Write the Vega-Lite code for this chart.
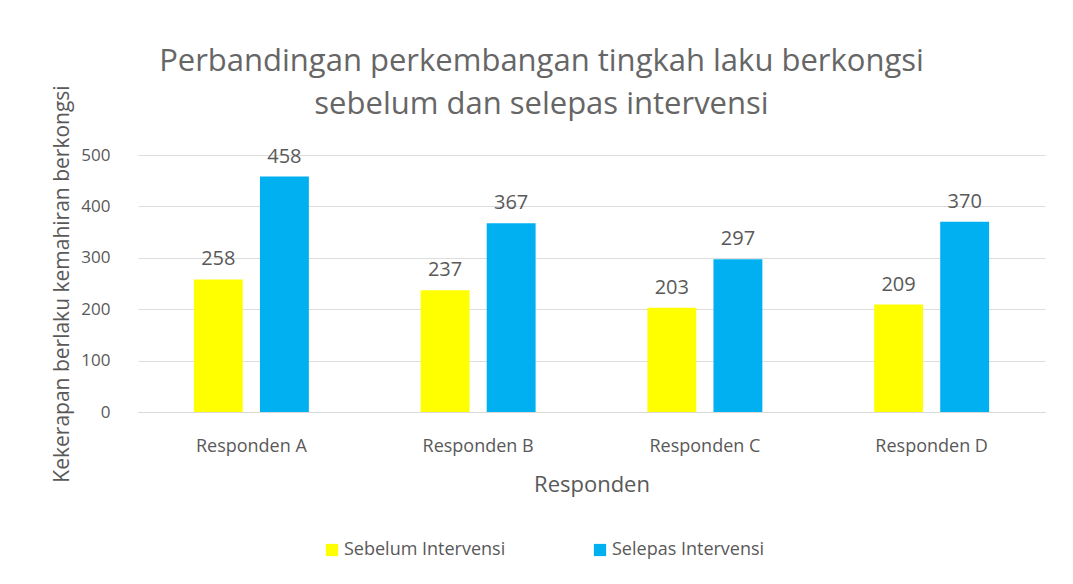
{
  "$schema": "https://vega.github.io/schema/vega-lite/v6.json",
  "autosize": {"type": "none"},
  "width": 907,
  "height": 257,
  "padding": {"left": 138, "top": 155, "right": 28, "bottom": 172},
  "background": "white",
  "title": {
    "text": ["Perbandingan perkembangan tingkah laku berkongsi", "sebelum dan selepas intervensi"],
    "font": "Open Sans",
    "fontSize": 31,
    "fontWeight": "normal",
    "color": "#666666",
    "anchor": "middle",
    "dx": -50,
    "dy": 66,
    "offset": 30,
    "lineHeight": 43
  },
  "data": {
    "values": [
      {"responden": "Responden A", "tempoh": "Sebelum Intervensi", "nilai": 258},
      {"responden": "Responden A", "tempoh": "Selepas Intervensi", "nilai": 458},
      {"responden": "Responden B", "tempoh": "Sebelum Intervensi", "nilai": 237},
      {"responden": "Responden B", "tempoh": "Selepas Intervensi", "nilai": 367},
      {"responden": "Responden C", "tempoh": "Sebelum Intervensi", "nilai": 203},
      {"responden": "Responden C", "tempoh": "Selepas Intervensi", "nilai": 297},
      {"responden": "Responden D", "tempoh": "Sebelum Intervensi", "nilai": 209},
      {"responden": "Responden D", "tempoh": "Selepas Intervensi", "nilai": 370}
    ]
  },
  "encoding": {
    "x": {
      "field": "responden",
      "type": "nominal",
      "scale": {"paddingInner": 0.493, "paddingOuter": 0.2465},
      "axis": {
        "title": "Responden",
        "labelAngle": 0,
        "labelFont": "Open Sans",
        "labelFontSize": 18,
        "labelColor": "#595959",
        "labelPadding": 25,
        "titleFont": "Open Sans",
        "titleFontSize": 22,
        "titleFontWeight": "normal",
        "titleColor": "#595959",
        "titlePadding": 19,
        "domainColor": "#D9D9D9",
        "ticks": false
      }
    },
    "xOffset": {
      "field": "tempoh",
      "type": "nominal",
      "sort": ["Sebelum Intervensi", "Selepas Intervensi"],
      "scale": {"paddingInner": 0.26, "paddingOuter": 0}
    },
    "y": {
      "field": "nilai",
      "type": "quantitative",
      "scale": {"domain": [0, 500]},
      "axis": {
        "title": "Kekerapan berlaku kemahiran berkongsi",
        "values": [0, 100, 200, 300, 400, 500],
        "labelFont": "Open Sans",
        "labelFontSize": 17,
        "labelColor": "#595959",
        "labelPadding": 28,
        "titleFont": "Open Sans",
        "titleFontSize": 21,
        "titleFontWeight": "normal",
        "titleColor": "#595959",
        "titlePadding": 8,
        "domain": false,
        "ticks": false,
        "gridColor": "#DDDDDD"
      }
    }
  },
  "layer": [
    {
      "mark": {"type": "bar"},
      "encoding": {
        "color": {
          "field": "tempoh",
          "type": "nominal",
          "sort": ["Sebelum Intervensi", "Selepas Intervensi"],
          "scale": {"domain": ["Sebelum Intervensi", "Selepas Intervensi"], "range": ["#FFFF00", "#00B0F0"]},
          "legend": {
            "title": null,
            "orient": "none",
            "direction": "horizontal",
            "legendX": 185,
            "legendY": 386,
            "symbolType": "square",
            "symbolSize": 150,
            "symbolStrokeWidth": 0,
            "labelFont": "Open Sans",
            "labelFontSize": 18,
            "labelColor": "#595959",
            "labelOffset": 3,
            "labelLimit": 400,
            "columnPadding": 85
          }
        }
      }
    },
    {
      "mark": {"type": "text", "baseline": "bottom", "dy": -10, "font": "Open Sans", "fontSize": 20, "color": "#595959"},
      "encoding": {
        "text": {"field": "nilai", "type": "quantitative"}
      }
    }
  ],
  "config": {"view": {"stroke": null}}
}
